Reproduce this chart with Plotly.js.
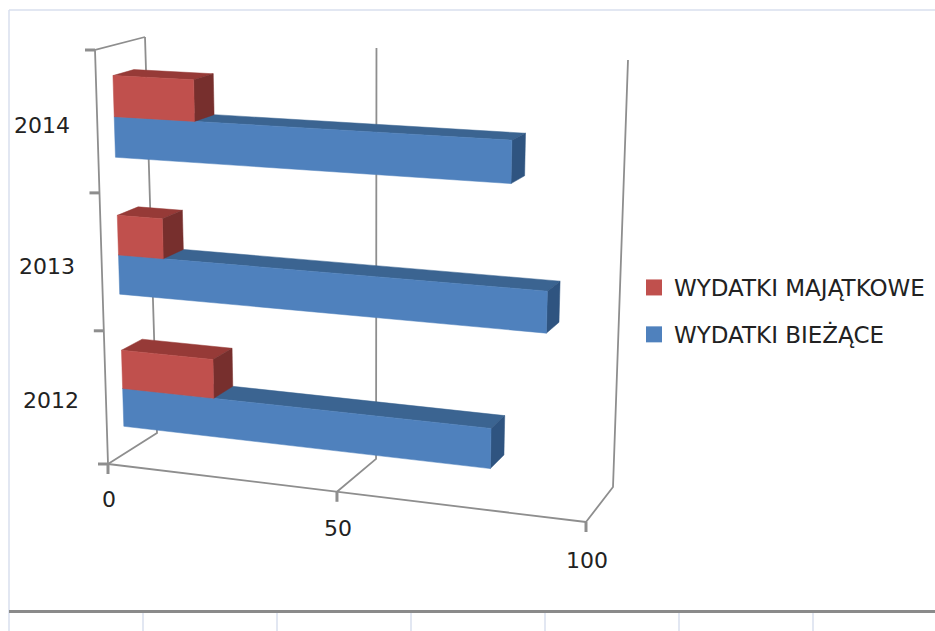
<!DOCTYPE html>
<html><head><meta charset="utf-8">
<script src="https://cdn.plot.ly/plotly-3.0.1.min.js"></script>
<style>html,body{margin:0;padding:0;background:#fff}#c{width:935px;height:631px}</style></head>
<body><div id="c"></div>
<script>
const years = ['2012','2013','2014'];
const biezace = [79, 89.5, 82];
const majatkowe = [20.5, 10, 17.5];
const valueTicks = [0, 50, 100];
const seriesNames = ['WYDATKI MAJĄTKOWE','WYDATKI BIEŻĄCE'];

// 3-D view of the chart box, expressed as the two end planes in page pixels
const frontQuad = [[108,464],[586,522],[95,50],[600,73]];
const backQuad  = [[157,433],[613,487],[145,37],[628,60]];
const vMax = 100, nCat = years.length;
const depthFront = 0.34, depthBack = 0.76, barLow = 0.21, barMid = 0.5, barHigh = 0.79;

function squareToQuad(q){
  const [a,b,c,d]=q; // (0,0),(1,0),(0,1),(1,1)
  const dx1=b[0]-d[0],dx2=c[0]-d[0],sx=a[0]-b[0]+d[0]-c[0];
  const dy1=b[1]-d[1],dy2=c[1]-d[1],sy=a[1]-b[1]+d[1]-c[1];
  const den=dx1*dy2-dx2*dy1;
  const g=(sx*dy2-dx2*sy)/den,h=(dx1*sy-sx*dy1)/den;
  const A=b[0]-a[0]+g*b[0],B=c[0]-a[0]+h*c[0],C=a[0];
  const D=b[1]-a[1]+g*b[1],E=c[1]-a[1]+h*c[1],F=a[1];
  return (u,v)=>{const w=g*u+h*v+1;return [(A*u+B*v+C)/w,(D*u+E*v+F)/w];};
}
const F=squareToQuad(frontQuad),B=squareToQuad(backQuad);
function proj(val,cat,d){
  const p=F(val/vMax,cat/nCat),q=B(val/vMax,cat/nCat);
  return [p[0]*(1-d)+q[0]*d,p[1]*(1-d)+q[1]*d];
}
const traces=[];
function poly(pts,color){
  const c=pts.concat([pts[0]]);
  traces.push({type:'scatter',mode:'lines',x:c.map(p=>p[0]),y:c.map(p=>p[1]),fill:'toself',fillcolor:color,
    line:{color:color,width:0.5},showlegend:false,hoverinfo:'skip'});
}
function line(pts,w){
  traces.push({type:'scatter',mode:'lines',x:pts.map(p=>p[0]),y:pts.map(p=>p[1]),
    line:{color:'#8e8e8e',width:w||1.8},showlegend:false,hoverinfo:'skip'});
}
// walls, gridlines and tick marks
valueTicks.forEach(t=>{
  line([proj(t,0,0),proj(t,0,1),proj(t,nCat,1)]);
  const a=proj(t,0,0); line([a,[a[0],a[1]+10]],3);
});
line([proj(0,0,0),proj(0,nCat,0),proj(0,nCat,1)]);
line([proj(0,0,0),proj(vMax,0,0)]);
for(let i=0;i<=nCat;i++){const a=proj(0,i,0); line([[a[0]-10,a[1]],a],3);}

function box(v0,v1,cat,h0,h1,front,top,side){
  const P=(v,h,d)=>proj(v,cat+h,d);
  poly([P(v0,h1,depthFront),P(v1,h1,depthFront),P(v1,h1,depthBack),P(v0,h1,depthBack)],top);
  poly([P(v1,h0,depthFront),P(v1,h0,depthBack),P(v1,h1,depthBack),P(v1,h1,depthFront)],side);
  poly([P(v0,h0,depthFront),P(v1,h0,depthFront),P(v1,h1,depthFront),P(v0,h1,depthFront)],front);
}
for(let i=nCat-1;i>=0;i--){
  box(0,biezace[i],i,barLow,barMid,'#4f81bd','#3b6491','#2f5480');
  box(0,majatkowe[i],i,barMid,barHigh,'#c0504d','#963a37','#772f2d');
}
// legend entries
[['#c0504d',seriesNames[0],'a'],['#4f81bd',seriesNames[1],'b']].forEach(s=>{
  traces.push({type:'scatter',mode:'markers',x:[null],y:[null],name:s[1],legendgroup:s[2],
    marker:{symbol:'square',size:16,color:s[0]}});
});
const font={family:'"DejaVu Sans", sans-serif',size:22,color:'#222222'};
const legendFont={family:'"DejaVu Sans", sans-serif',size:23,color:'#222222'};
const ann=[];
years.forEach((y,i)=>{
  const a=proj(0,i+0.5,0);
  ann.push({x:a[0]-25,y:a[1]+[3,4,3][i],xref:'x',yref:'y',text:y,showarrow:false,xanchor:'right',yanchor:'middle',font:font});
});
valueTicks.forEach((t,i)=>{
  const a=proj(t,0,0);
  ann.push({x:a[0]+1,y:a[1]+[35,37,38][i],xref:'x',yref:'y',text:String(t),showarrow:false,xanchor:'center',yanchor:'middle',font:font});
});
const frameColor='#d9dfee';
const shapes=[
 {type:'line',xref:'x',yref:'y',x0:9,x1:9,y0:10,y1:631,line:{color:frameColor,width:1.5}},
 {type:'line',xref:'x',yref:'y',x0:9,x1:935,y0:10,y1:10,line:{color:frameColor,width:1.5}},
 {type:'line',xref:'x',yref:'y',x0:9,x1:935,y0:611.5,y1:611.5,line:{color:'#8a8a8a',width:3}}
];
for(let k=1;k<=6;k++){const X=9+134*k;shapes.push({type:'line',xref:'x',yref:'y',x0:X,x1:X,y0:613,y1:631,line:{color:frameColor,width:1.5}});}
Plotly.newPlot('c',traces,{
  width:935,height:631,margin:{l:0,r:0,t:0,b:0},paper_bgcolor:'#fff',plot_bgcolor:'#fff',
  xaxis:{range:[0,935],visible:false,fixedrange:true},
  yaxis:{range:[631,0],visible:false,fixedrange:true},
  legend:{x:634/935,y:1-266/631,xanchor:'left',yanchor:'top',font:legendFont,tracegroupgap:14,bgcolor:'rgba(0,0,0,0)',itemwidth:30},
  annotations:ann,shapes:shapes
},{displayModeBar:false,staticPlot:true});
</script></body></html>
